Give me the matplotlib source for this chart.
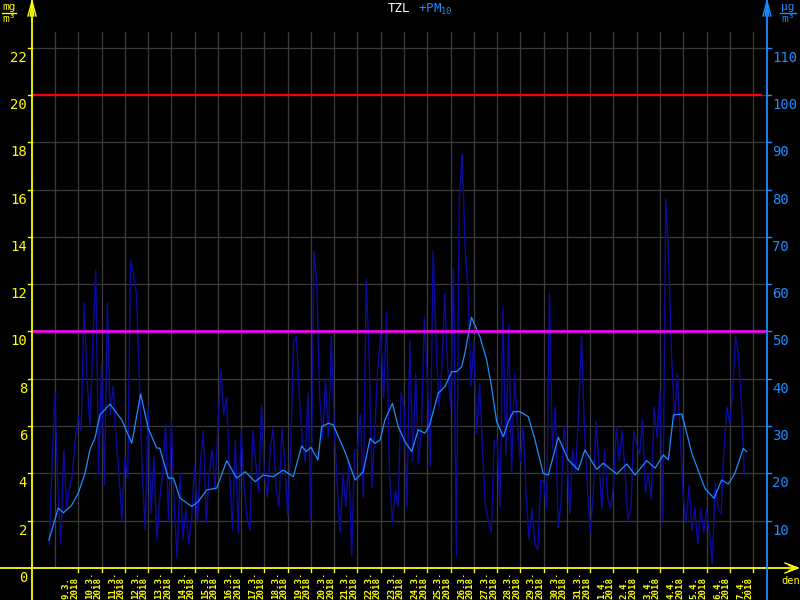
import numpy as np
import matplotlib
matplotlib.use('Agg')
import matplotlib.pyplot as plt
from matplotlib import transforms as mtrans

# ---------------- data ----------------
day_labels = ['9.3.', '10.3.', '11.3.', '12.3.', '13.3.', '14.3.', '15.3.', '16.3.',
              '17.3.', '18.3.', '19.3.', '20.3.', '21.3.', '22.3.', '23.3.', '24.3.',
              '25.3.', '26.3.', '27.3.', '28.3.', '29.3.', '30.3.', '31.3.', '1.4.',
              '2.4.', '3.4.', '4.4.', '5.4.', '6.4.', '7.4.']
year_label = '2018'

# raw TZL values (mg/m3), 3-hourly, starting 8.3. 18:00 (day offset -0.25)
raw_start = -0.25
raw_step = 0.125
raw_vals = [
    1.0, 4.5,
    7.4, 3.3, 1.0, 5.0, 2.6, 3.4, 4.0, 5.5,          # 9.3
    6.4, 5.8, 11.2, 8.0, 6.0, 9.5, 12.6, 4.0,       # 10.3
    8.6, 3.5, 11.2, 6.5, 7.7, 5.4, 4.0, 2.0,        # 11.3
    4.7, 3.8, 13.0, 12.4, 11.6, 8.0, 4.0, 1.6,      # 12.3
    6.8, 2.3, 4.7, 1.2, 2.9, 4.0, 6.1, 2.0,         # 13.3
    6.2, 2.5, 0.4, 4.0, 1.2, 2.5, 1.0, 2.2,         # 14.3
    4.3, 1.9, 4.5, 5.8, 1.9, 4.0, 5.0, 3.3,         # 15.3
    6.0, 8.4, 6.5, 7.2, 4.0, 1.6, 5.4, 1.5,         # 16.3
    5.8, 3.5, 2.2, 1.6, 5.8, 4.5, 3.2, 6.9,         # 17.3
    4.0, 3.0, 5.0, 5.9, 3.4, 2.6, 5.9, 4.5,         # 18.3
    2.2, 5.0, 9.5, 9.8, 7.2, 5.4, 4.5, 7.4,         # 19.3
    2.0, 13.4, 12.0, 7.2, 5.5, 8.0, 5.5, 9.8,       # 20.3
    6.0, 3.5, 1.5, 4.0, 2.6, 4.5, 0.5, 5.0,         # 21.3
    5.0, 6.5, 3.0, 12.2, 9.0, 3.4, 6.0, 8.5,        # 22.3
    9.9, 7.2, 10.8, 4.0, 1.9, 3.3, 2.6, 7.4,        # 23.3
    6.8, 2.6, 9.6, 4.5, 8.2, 4.4, 6.0, 10.6,        # 24.3
    8.0, 4.3, 13.4, 9.6, 6.8, 8.5, 11.6, 8.5,       # 25.3
    6.8, 12.7, 0.5, 15.6, 17.5, 13.5, 11.8, 7.7,    # 26.3
    9.6, 5.7, 7.8, 5.0, 2.6, 2.0, 1.5, 5.4,         # 27.3
    5.4, 2.6, 11.0, 4.8, 10.3, 4.0, 8.2, 6.0,       # 28.3
    4.5, 6.0, 3.0, 1.2, 2.5, 1.0, 0.8, 3.7,         # 29.3
    3.7, 2.5, 11.6, 5.0, 6.8, 1.7, 2.8, 6.0,        # 30.3
    4.8, 2.3, 5.0, 4.0, 6.5, 9.8, 6.0, 3.5,         # 31.3
    1.5, 3.0, 6.2, 4.5, 2.5, 5.0, 3.0, 2.5,         # 1.4
    3.5, 6.0, 4.5, 5.8, 4.0, 2.0, 2.5, 5.8,         # 2.4
    5.2, 4.8, 6.3, 3.2, 4.0, 2.9, 6.8, 5.5,         # 3.4
    7.5, 2.0, 15.6, 13.0, 9.0, 6.3, 8.2, 5.5,       # 4.4
    3.0, 1.9, 3.5, 1.6, 2.5, 1.0, 2.5, 1.5,         # 5.4
    2.5, 1.5, 0.2, 3.6, 2.5, 2.3, 5.0, 6.8,         # 6.4
    6.1, 7.5, 9.8, 9.0, 7.0, 4.0,                   # 7.4
]

# moving average (light blue)
avg_day = [-0.26, 0.14, 0.36, 0.72, 1.0, 1.29, 1.5, 1.72, 1.93, 2.36, 2.58, 2.87, 3.3,
           3.68, 4.0, 4.37, 4.5, 4.87, 5.09, 5.37, 5.87, 6.15, 6.52, 6.95, 7.38, 7.81,
           8.17, 8.6, 8.95, 9.38, 9.81, 10.24, 10.6, 10.8, 11.0, 11.3, 11.46, 11.75,
           11.96, 12.46, 12.9, 13.25, 13.54, 13.75, 13.97, 14.18, 14.5, 14.75, 15.04,
           15.33, 15.61, 15.9, 16.1, 16.47, 16.76, 17.05, 17.26, 17.48, 17.62, 17.9,
           18.26, 18.55, 18.76, 18.98, 19.27, 19.48, 19.7, 19.98, 20.34, 20.63, 20.98,
           21.2, 21.63, 22.06, 22.49, 22.77, 23.28, 23.56, 24.14, 24.57, 24.93, 25.43,
           25.79, 26.15, 26.36, 26.58, 26.94, 27.37, 27.93, 28.32, 28.65, 28.94, 29.22,
           29.58, 29.72]
avg_val = [1.18, 2.54, 2.33, 2.66, 3.17, 4.0, 5.0, 5.5, 6.47, 6.93, 6.64, 6.26, 5.28,
           7.36, 5.92, 5.07, 5.07, 3.8, 3.8, 2.96, 2.6, 2.8, 3.3, 3.38, 4.54, 3.8,
           4.07, 3.65, 3.93, 3.86, 4.14, 3.86, 5.16, 4.92, 5.1, 4.57, 5.98, 6.12,
           6.05, 4.92, 3.72, 4.07, 5.48, 5.27, 5.41, 6.26, 6.96, 5.98, 5.34,
           4.92, 5.84, 5.7, 6.05, 7.39, 7.67, 8.3, 8.3, 8.51, 9.1, 10.6,
           9.78, 8.8, 7.67, 6.19, 5.55, 6.19, 6.61, 6.61, 6.4, 5.41, 4.0,
           3.93, 5.53, 4.57, 4.14, 4.99, 4.17, 4.43, 3.97, 4.4, 3.93, 4.54,
           4.22, 4.78, 4.57, 6.47, 6.51, 4.85, 3.37, 2.95, 3.72, 3.55, 4.0,
           5.06, 4.92]

limit_alarm = 20    # = 100 µg/m3
limit_day = 10      # = 50 µg/m3
left_ticks = [2, 4, 6, 8, 10, 12, 14, 16, 18, 20, 22]
left_labels = ['2', '4', '6', '8', '10', '12', '14', '16', '18', '20', '22']
right_labels = ['10', '20', '30', '40', '50', '60', '70', '80', '90', '100', '110']

# ---------------- style ----------------
BG = '#000000'
YEL = '#ffff00'
BLU = '#1e8cff'
DARK = '#0a0aa0'
GRID = '#3c3c3c'
MONO = 'DejaVu Sans Mono'

fig = plt.figure(figsize=(8, 6), dpi=100, facecolor=BG)
W, H = 800, 600
ax = fig.add_axes([32 / W, 1 - 568 / H, (767 - 32) / W, (568 - 32) / H])
ax.set_facecolor(BG)
ax.set_xlim(-0.989, 30.6)
ax.set_ylim(0, 22.66)
for s in ax.spines.values():
    s.set_visible(False)
ax.set_xticks([])
ax.set_yticks([])

ndays = len(day_labels)
# grid
for v in left_ticks:
    ax.axhline(v, color=GRID, lw=0.9, zorder=1)
for d in range(ndays + 1):
    ax.axvline(d, color=GRID, lw=0.9, zorder=1)

t = raw_start + raw_step * np.arange(len(raw_vals))
ax.plot(t, raw_vals, color=DARK, lw=1.0, zorder=2)
ax.plot(avg_day, avg_val, color=BLU, lw=0.9, zorder=3)
ax.axhline(limit_alarm, color='#ff0000', lw=1.6, xmax=0.9925, zorder=4)
ax.axhline(limit_day, color='#ff00ff', lw=1.9, zorder=4)

# tick labels
tl = mtrans.blended_transform_factory(ax.transAxes, ax.transData)
tl_left = mtrans.offset_copy(tl, fig=fig, x=-5, y=-3, units='dots')
tl_right = mtrans.offset_copy(tl, fig=fig, x=5, y=-3, units='dots')
for v, l in zip([0] + left_ticks, ['0'] + left_labels):
    ax.text(0, v, l, transform=tl_left, ha='right', va='top', color=YEL,
            family=MONO, fontsize=10, clip_on=False)
for v, l in zip(left_ticks, right_labels):
    ax.text(1, v, l, transform=tl_right, ha='left', va='top', color=BLU,
            family=MONO, fontsize=10, clip_on=False)
# tick marks
for v in left_ticks:
    ax.plot([0, -0.006], [v, v], transform=tl, color=YEL, lw=1, clip_on=False, zorder=5)
    ax.plot([1, 1.006], [v, v], transform=tl, color=BLU, lw=1, clip_on=False, zorder=5)

tx = mtrans.blended_transform_factory(ax.transData, ax.transAxes)
for d in range(1, ndays + 1):
    ax.plot([d, d], [0, -0.008], transform=tx, color=YEL, lw=1, clip_on=False, zorder=5)
tx_lab = mtrans.blended_transform_factory(ax.transData, fig.transFigure)
for i, lab in enumerate(day_labels):
    ax.text(i + 0.66, 0.002, lab + '\n' + year_label, transform=tx_lab, rotation=90,
            ha='center', va='bottom', multialignment='left', linespacing=0.95,
            color=YEL, family=MONO, fontsize=6.6, fontweight='bold', clip_on=False)

# ---------------- overlay (axes lines, arrows, units, title) ----------------
ov = fig.add_axes([0, 0, 1, 1], facecolor='none')
ov.set_xlim(0, W)
ov.set_ylim(H, 0)
ov.axis('off')

# x axis
ov.plot([0, 797], [568, 568], color=YEL, lw=1.3)
ov.plot([785, 798, 785], [563, 568, 573], color=YEL, lw=1)
ov.plot([789, 798, 789], [565.5, 568, 570.5], color=YEL, lw=1)
ov.text(791, 576, 'den', color=YEL, family=MONO, fontsize=7.5, ha='center', va='top')
# left y axis
ov.plot([32, 32], [600, 1], color=YEL, lw=1.3)
ov.plot([28, 32, 36], [16, 1, 16], color=YEL, lw=1)
ov.plot([30.2, 32, 33.8], [16, 3, 16], color=YEL, lw=1)
ov.text(9, 12, 'mg', color=YEL, family=MONO, fontsize=8, ha='center', va='bottom')
ov.plot([2, 16], [13.2, 13.2], color=YEL, lw=1)
ov.text(9, 14.5, 'm³', color=YEL, family=MONO, fontsize=8, ha='center', va='top')
# right y axis
ov.plot([767, 767], [600, 1], color=BLU, lw=1.3)
ov.plot([763, 767, 771], [16, 1, 16], color=BLU, lw=1)
ov.plot([765.2, 767, 768.8], [16, 3, 16], color=BLU, lw=1)
ov.text(788, 12, 'µg', color=BLU, family=MONO, fontsize=8, ha='center', va='bottom')
ov.plot([780, 796], [13.2, 13.2], color=BLU, lw=1)
ov.text(788, 14.5, 'm³', color=BLU, family=MONO, fontsize=8, ha='center', va='top')
# title
ov.text(410, 9, 'TZL', color='#ffffff', family=MONO, fontsize=9, ha='right', va='center')
ov.text(418, 9, '+PM$_{\\mathregular{10}}$', color=BLU, family=MONO, fontsize=9,
        ha='left', va='center')

fig.savefig('out.png', dpi=100, facecolor=BG)
